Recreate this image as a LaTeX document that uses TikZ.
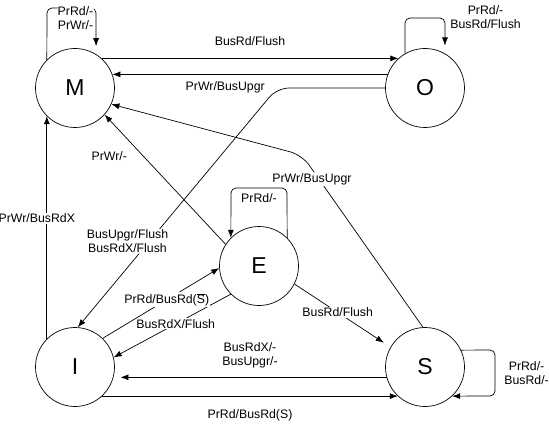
\documentclass[tikz,border=0pt]{standalone}
\usepackage{fontspec}
\setmainfont{Liberation Sans}
\usetikzlibrary{automata, positioning, arrows.meta}

\begin{document}
\begin{tikzpicture}[x=1pt, y=-1pt, on grid, line width=0.7pt, >={Latex[length=8pt,width=6pt]}]

    \tikzstyle{lbl} = [fill=white, inner sep=1pt, align=center, font=\fontsize{12.3}{14}\selectfont]
    \tikzset{every state/.style={draw, minimum size=79pt, inner sep=0pt, font=\fontsize{23}{25}\selectfont}}

    \useasboundingbox (0,0) rectangle (549,425);

    % Add the states
    \node[state] (m) at (75,88) {M};
    \node[state, right=350pt of m] (o) {O};
    \node[state, below=279pt of m] (i) {I};
    \node[state, right=350pt of i] (s) {S};
    \node[state, above right=101pt and 184pt of i] (e) {E};

    % Connect the states with arrows
    \path[->]

        % Modified
        (m.48) edge node[lbl, above=11pt] {BusRd/Flush} (o.132)

        % Owned
        (o.160) edge node[lbl, below=6pt, pos=0.59] {PrWr/BusUpgr} (m.20)

        % Exclusive
        (e.147) edge node[lbl, pos=0.68, left=15pt] {PrWr/-} (m.-42)
        (e.225) edge node[lbl, pos=0.47] {BusRdX/Flush} (i.14)
        (e.-27) edge[shorten >=8pt] node[lbl, pos=0.45] {BusRd/Flush} (s.150)

        % Shared
        (s.195) edge[shorten >=7pt] node[lbl, above=8pt] {BusRdX/-\\BusUpgr/-} (i.-15)

        % Invalid
        (i.135) edge node[lbl, pos=0.54, xshift=-10pt] {PrWr/BusRdX} (m.225)
        (i.46) edge node[lbl, pos=0.55] {PrRd/BusRd($\overline{\mbox{S}}$)} (e.183)
        (i.-47) edge node[lbl, below=12pt] {PrRd/BusRd(S)} (s.227);

    % Owned -> Invalid
    \draw[->, rounded corners=12pt] (o.180) -- (277,88)
        -- node[lbl, pos=0.64, xshift=-22pt] {BusUpgr/Flush\\BusRdX/Flush} (i.86);

    % Shared -> Modified
    \draw[->, rounded corners=12pt] (s.93)
        -- node[lbl, pos=0.86, xshift=-7pt] {PrWr/BusUpgr} (302,155) -- (m.-24);

    % Self loops
    \draw[->, rounded corners=5pt, shorten >=8pt] (m.135) -- (47,8)
        -- node[lbl, below=-3pt, xshift=4pt] {PrRd/-\\PrWr/-} (96,8) -- (m.58);
    \draw[->, rounded corners=5pt, shorten >=8pt] (o.120) -- (405,18) -- (445,18)
        -- node[lbl, pos=0, anchor=west, xshift=4pt, yshift=1pt] {PrRd/-\\BusRd/Flush} (o.60);
    \draw[->, rounded corners=5pt] (e.45) -- (287,188)
        -- node[lbl, below=4pt] {PrRd/-} (231,188) -- (e.135);
    \draw[->, rounded corners=5pt] (s.25) -- (495,350)
        -- node[lbl, right=8pt] {PrRd/-\\BusRd/-} (495,396) -- (s.-47);

\end{tikzpicture}
\end{document}
